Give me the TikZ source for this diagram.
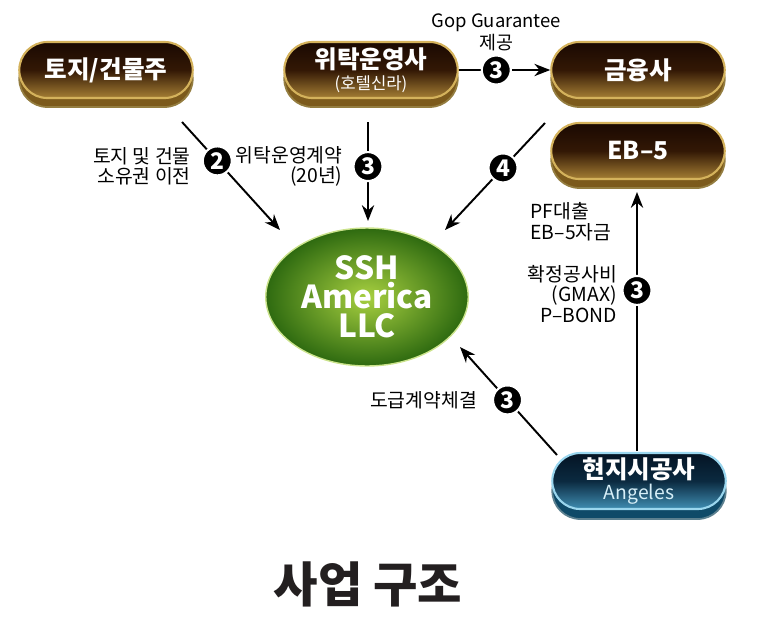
\documentclass[tikz,border=0pt]{standalone}
\usepackage{fontspec}
\setmainfont{Noto Sans CJK KR}
\usetikzlibrary{arrows.meta,positioning,calc,shapes.misc,shapes.geometric,shadows}

\definecolor{brTop}{HTML}{1A0902}
\definecolor{brMid}{HTML}{331805}
\definecolor{brBot}{HTML}{A47E34}
\definecolor{brRim}{HTML}{D4B25C}
\definecolor{brBase}{HTML}{7C5A1C}
\definecolor{blTop}{HTML}{041424}
\definecolor{blMid}{HTML}{0B2A40}
\definecolor{blBot}{HTML}{3F8DB2}
\definecolor{blRim}{HTML}{9AD6EE}
\definecolor{blBase}{HTML}{0F4A68}
\definecolor{ellDark}{HTML}{2E6A10}
\definecolor{ellLight}{HTML}{A8D040}
\definecolor{titleInk}{HTML}{231F20}

\begin{document}
\begin{tikzpicture}[x=0.02cm, y=-0.02cm,
  pill/.style={rounded rectangle, minimum width=3.54cm, minimum height=1.12cm,
    line width=1.2pt, text=white, align=center, inner sep=1pt,
    font=\fontsize{14}{15}\selectfont\bfseries},
  goldpill/.style={pill, top color=brTop, bottom color=brBot, middle color=brMid,
    draw=brRim, general shadow={shadow xshift=0pt, shadow yshift=-0.18cm,
      fill=brBase, draw=brRim!70!black, line width=1pt}},
  bluepill/.style={pill, top color=blTop, bottom color=blBot, middle color=blMid,
    draw=blRim, general shadow={shadow xshift=0pt, shadow yshift=-0.2cm,
      fill=blBase, draw=blRim!60!black, line width=1pt}},
  arr/.style={-{Stealth[length=9pt,width=7pt]}, line width=1.1pt},
  num/.style={circle, fill=black, draw=white, line width=1.2pt, text=white,
    inner sep=0pt, minimum size=0.58cm, font=\fontsize{13}{13}\selectfont\bfseries},
  lbl/.style={font=\fontsize{11}{11.5}\selectfont, inner sep=1pt}
]
\useasboundingbox (0,0) rectangle (766,629);

% top row
\node[goldpill] (land) at (106,70) {토지/건물주};
\node[goldpill] (trust) at (371,70) {위탁운영사\\[-3pt]
  {\fontsize{9.5}{10}\selectfont\mdseries (호텔신라)}};
\node[goldpill] (finance) at (638,70) {금융사};
\node[goldpill] (eb5) at (638,151) {EB--5};

% centre
\node[ellipse, minimum width=3.72cm, minimum height=2.76cm,
  inner color=ellLight, outer color=ellDark, draw=ellLight!60!white,
  line width=0.8pt, text=white, align=center,
  font=\fontsize{18}{16.5}\selectfont\bfseries] (ssh) at (367,297)
  {SSH\\America\\LLC};

% contractor
\node[bluepill] (site) at (639,481) {현지시공사\\[-3pt]
  {\fontsize{11}{11}\selectfont\mdseries\color{blRim!40!white}Angeles}};

\node[font=\fontsize{27.5}{28}\selectfont\bfseries, text=titleInk] (title)
  at (368,584) {사업 구조};

% flows into SSH
\draw[arr] ($(land)+(76,52)$) -- ($(ssh)+(-87,-67)$)
  node[num, pos=.36] (n2) {2};
\node[lbl, align=right, left=0.18cm of n2, yshift=-3pt] {토지 및 건물\\소유권 이전};

\draw[arr] ($(trust)+(-3,52)$) -- ($(ssh)+(1,-76)$)
  node[num, pos=.45] (n3a) {3};
\node[lbl, align=right, left=0.16cm of n3a] {위탁운영계약\\(20년)};

\draw[arr] (trust.east) -- (finance.west) node[num, pos=.41] (n3b) {3};
\node[lbl, align=center, above=1pt of n3b, font=\fontsize{10.5}{10}\selectfont]
  {Gop Guarantee\\제공};

\draw[arr] ($(finance)+(-93,53)$) -- ($(ssh)+(78,-67)$)
  node[num, pos=.42] (n4) {4};

\draw[arr] ($(site)+(-82,-26)$) -- ($(ssh)+(93,50)$)
  node[num, pos=.51] (n3c) {3};
\node[lbl, left=0.26cm of n3c] {도급계약체결};

% funding line
\draw[arr] ($(site)+(-2,-30)$) -- ($(eb5)+(-1,41)$)
  node[num, pos=.62] (n3d) {3}
  node[lbl, align=left, pos=.885, left=0.46cm] {PF대출\\EB--5자금};
\node[lbl, align=right, left=0.05cm of n3d, yshift=-2pt]
  {확정공사비\\(GMAX)\\P--BOND};

\end{tikzpicture}
\end{document}
